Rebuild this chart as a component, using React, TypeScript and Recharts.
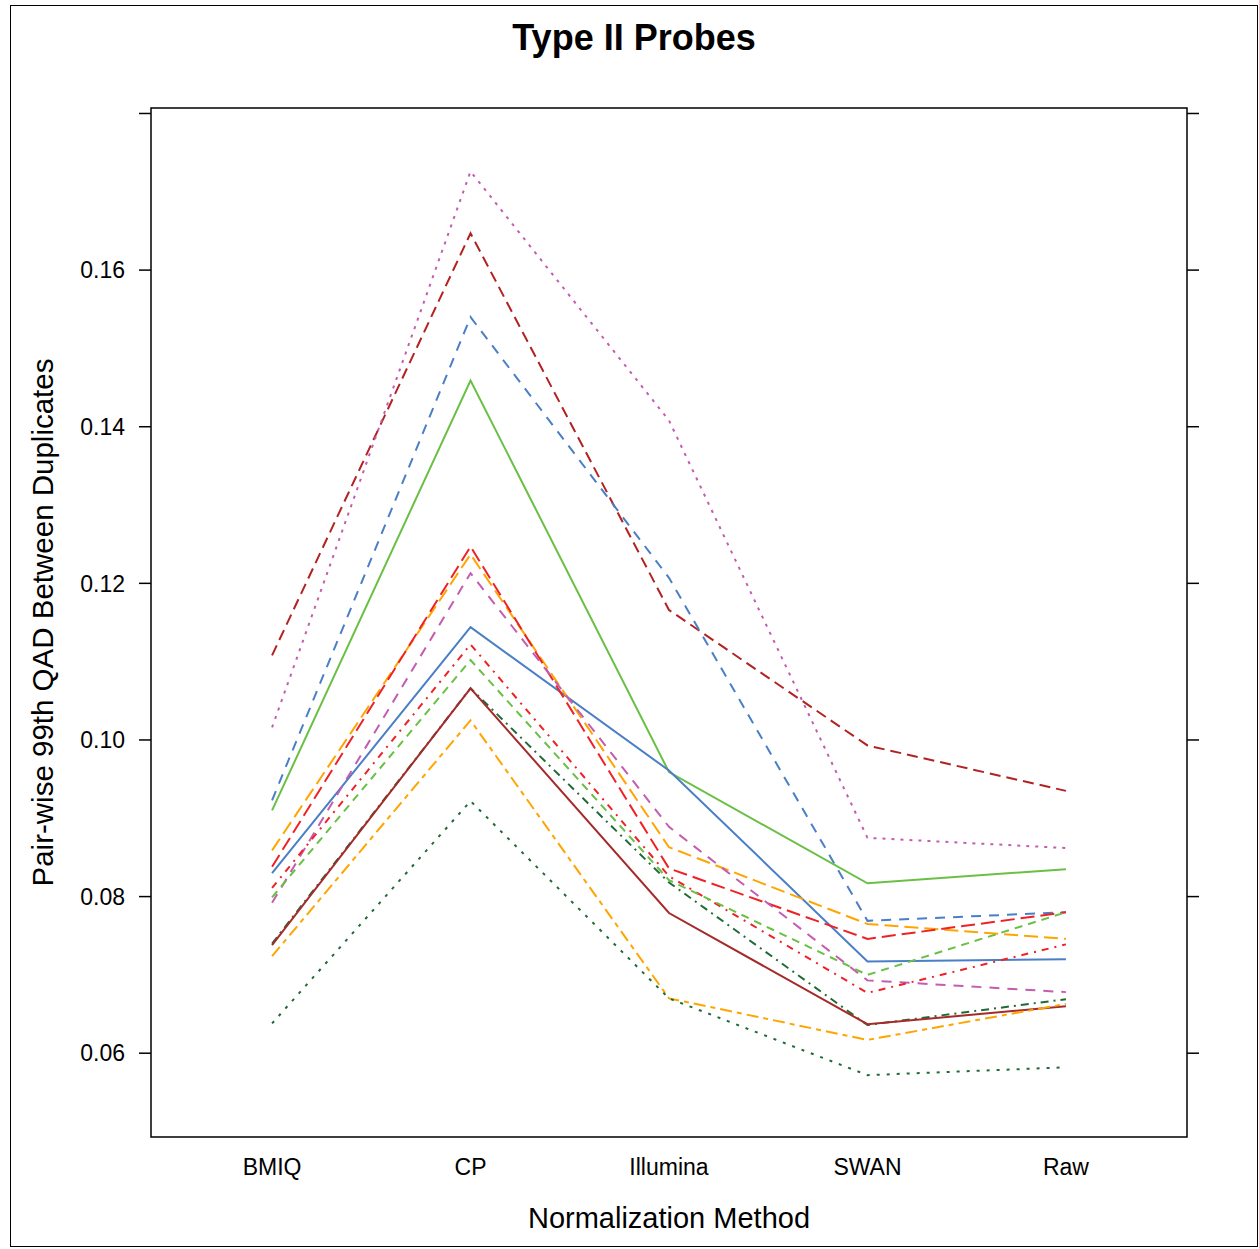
import React from 'react';
import { LineChart, Line, XAxis, YAxis, ReferenceArea } from 'recharts';

// Normalization methods along the x axis
const METHODS = ['BMIQ', 'CP', 'Illumina', 'SWAN', 'Raw'];
// 0.18 gets a tick mark but no label
const Y_TICKS = [0.06, 0.08, 0.1, 0.12, 0.14, 0.16, 0.18];

// 99th QAD per duplicate pair, one value per method
const pair01 = [0.1108, 0.1647, 0.1166, 0.0993, 0.0935];
const pair02 = [0.1016, 0.1726, 0.1408, 0.0875, 0.0862];
const pair03 = [0.0923, 0.154, 0.1207, 0.0769, 0.078];
const pair04 = [0.091, 0.1459, 0.0959, 0.0817, 0.0835];
const pair05 = [0.083, 0.1144, 0.0961, 0.0717, 0.072];
const pair06 = [0.0859, 0.1237, 0.0863, 0.0765, 0.0746];
const pair07 = [0.0838, 0.1247, 0.0836, 0.0746, 0.078];
const pair08 = [0.0792, 0.1213, 0.0889, 0.0693, 0.0678];
const pair09 = [0.0811, 0.1122, 0.0826, 0.0677, 0.0739];
const pair10 = [0.0799, 0.1102, 0.0821, 0.07, 0.078];
const pair11 = [0.074, 0.1066, 0.0818, 0.0636, 0.0669];
const pair12 = [0.0738, 0.1066, 0.0779, 0.0637, 0.066];
const pair13 = [0.0724, 0.1025, 0.067, 0.0617, 0.0663];
const pair14 = [0.0638, 0.0922, 0.067, 0.0572, 0.0582];

const SERIES = [
  { key: 'pair01', values: pair01, color: '#b22222', dash: '11 6' },
  { key: 'pair02', values: pair02, color: '#c45cb0', dash: '3 6' },
  { key: 'pair03', values: pair03, color: '#4a7fc6', dash: '10 8' },
  { key: 'pair04', values: pair04, color: '#6abf45', dash: undefined },
  { key: 'pair05', values: pair05, color: '#4a7fc6', dash: undefined },
  { key: 'pair06', values: pair06, color: '#ffa500', dash: '14 6' },
  { key: 'pair07', values: pair07, color: '#ee2226', dash: '14 6' },
  { key: 'pair08', values: pair08, color: '#c45cb0', dash: '10 8' },
  { key: 'pair09', values: pair09, color: '#ee2226', dash: '7 6 2 6' },
  { key: 'pair10', values: pair10, color: '#6abf45', dash: '8 6' },
  { key: 'pair11', values: pair11, color: '#1e6b35', dash: '8 5 2 5' },
  { key: 'pair12', values: pair12, color: '#a52a2a', dash: undefined },
  { key: 'pair13', values: pair13, color: '#ffa500', dash: '12 5 5 5' },
  { key: 'pair14', values: pair14, color: '#1e6b35', dash: '3 7' },
];

const data = METHODS.map((m, i) => {
  const row: Record<string, number | string> = { x: i + 1, method: m };
  SERIES.forEach((s) => {
    row[s.key] = s.values[i];
  });
  return row;
});

const X_DOMAIN: [number, number] = [0.39, 5.61];
const Y_DOMAIN: [number, number] = [0.0493, 0.1807];
const FONT = '"Liberation Sans", Arial, sans-serif';

function YTitle(props: any) {
  const { viewBox } = props;
  const cx = viewBox.x + viewBox.width - 109;
  const cy = viewBox.y + viewBox.height / 2;
  return (
    <text
      x={cx}
      y={cy}
      transform={`rotate(-90, ${cx}, ${cy})`}
      textAnchor="middle"
      dominantBaseline="central"
      fontSize={29.5}
      fontFamily={FONT}
      fill="#000"
    >
      Pair-wise 99th QAD Between Duplicates
    </text>
  );
}

function XTitle(props: any) {
  const { viewBox } = props;
  const cx = viewBox.x + viewBox.width / 2;
  return (
    <text
      x={cx}
      y={1228}
      textAnchor="middle"
      fontSize={29}
      fontFamily={FONT}
      fill="#000"
    >
      Normalization Method
    </text>
  );
}

const yLabel = (v: number) => (v > 0.17 ? '' : v.toFixed(2));

export default function App() {
  return (
    <div style={{ position: 'absolute', left: 0, top: 0, width: 1259, height: 1249, background: '#fff' }}>
      <div
        style={{
          position: 'absolute',
          left: 10,
          top: 5,
          width: 1248,
          height: 1242,
          border: '1.5px solid #000',
          boxSizing: 'border-box',
        }}
      />
      <div
        style={{
          position: 'absolute',
          left: 10,
          width: 1248,
          top: 16,
          textAlign: 'center',
          fontFamily: FONT,
          fontWeight: 700,
          fontSize: 36,
          lineHeight: '44px',
        }}
      >
        Type II Probes
      </div>
      <div style={{ position: 'absolute', left: 0, top: 0 }}>
        <LineChart
          width={1259}
          height={1249}
          data={data}
          margin={{ top: 108, right: 60, left: 81, bottom: 52 }}
        >
          <XAxis
            dataKey="x"
            type="number"
            domain={X_DOMAIN}
            ticks={[1, 2, 3, 4, 5]}
            tickFormatter={(v: number) => METHODS[v - 1]}
            allowDataOverflow
            axisLine={false}
            tickLine={false}
            tickSize={0}
            tickMargin={22}
            height={60}
            tick={{ fontSize: 23, fill: '#000', fontFamily: FONT }}
            label={<XTitle />}
          />
          <YAxis
            yAxisId="left"
            domain={Y_DOMAIN}
            ticks={Y_TICKS}
            allowDataOverflow
            width={70}
            axisLine={false}
            tickSize={12}
            tickMargin={14}
            tickLine={{ stroke: '#000', strokeWidth: 1.5 }}
            tickFormatter={yLabel}
            tick={{ fontSize: 23, fill: '#000', fontFamily: FONT }}
            label={<YTitle />}
          />
          <YAxis
            yAxisId="right"
            orientation="right"
            domain={Y_DOMAIN}
            ticks={Y_TICKS}
            allowDataOverflow
            width={12}
            axisLine={false}
            tickSize={12}
            tickLine={{ stroke: '#000', strokeWidth: 1.5 }}
            tickFormatter={() => ''}
          />
          <ReferenceArea
            yAxisId="left"
            x1={X_DOMAIN[0]}
            x2={X_DOMAIN[1]}
            y1={Y_DOMAIN[0]}
            y2={Y_DOMAIN[1]}
            fill="none"
            stroke="#000"
            strokeWidth={1.5}
            ifOverflow="visible"
          />
          {SERIES.map((s) => (
            <Line
              key={s.key}
              yAxisId="left"
              dataKey={s.key}
              stroke={s.color}
              strokeWidth={2}
              strokeDasharray={s.dash}
              dot={false}
              activeDot={false}
              isAnimationActive={false}
            />
          ))}
        </LineChart>
      </div>
    </div>
  );
}
